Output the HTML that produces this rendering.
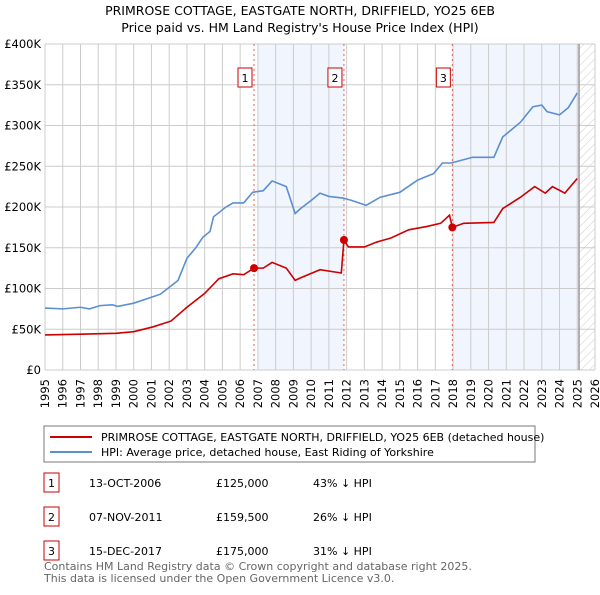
<!DOCTYPE html>
<html><head><meta charset="utf-8"><style>
body{margin:0;background:#fff;font-family:"Liberation Sans","DejaVu Sans",sans-serif;}
svg text{font-family:"DejaVu Sans","Liberation Sans",sans-serif;}
</style></head><body>
<svg id="c" width="600" height="590" xmlns="http://www.w3.org/2000/svg">
<defs><pattern id="hatch" width="6" height="6" patternUnits="userSpaceOnUse" patternTransform="rotate(45)"><line x1="0" y1="0" x2="0" y2="6" stroke="#ccc" stroke-width="1"/></pattern></defs>
<text x="300" y="15" text-anchor="middle" font-size="12.5">PRIMROSE COTTAGE, EASTGATE NORTH, DRIFFIELD, YO25 6EB</text>
<text x="300" y="32" text-anchor="middle" font-size="12.5">Price paid vs. HM Land Registry's House Price Index (HPI)</text>
<g id="plot"></g>
<rect x="44" y="426" width="491" height="36" fill="#fff" stroke="#777"/>
<line x1="50" y1="437" x2="92" y2="437" stroke="#cc0000" stroke-width="2"/>
<text x="101" y="441" font-size="11">PRIMROSE COTTAGE, EASTGATE NORTH, DRIFFIELD, YO25 6EB (detached house)</text>
<line x1="50" y1="452" x2="92" y2="452" stroke="#5b8fd0" stroke-width="2"/>
<text x="101" y="456" font-size="11">HPI: Average price, detached house, East Riding of Yorkshire</text>
<g font-size="11">
<rect x="44" y="473" width="15" height="19" fill="#fff" stroke="#cc0000"/><text x="51.5" y="487" text-anchor="middle">1</text>
<text x="89" y="487">13-OCT-2006</text><text x="216" y="487">£125,000</text><text x="313" y="487">43% ↓ HPI</text>
<rect x="44" y="507" width="15" height="19" fill="#fff" stroke="#cc0000"/><text x="51.5" y="521" text-anchor="middle">2</text>
<text x="89" y="521">07-NOV-2011</text><text x="216" y="521">£159,500</text><text x="313" y="521">26% ↓ HPI</text>
<rect x="44" y="541" width="15" height="19" fill="#fff" stroke="#cc0000"/><text x="51.5" y="555" text-anchor="middle">3</text>
<text x="89" y="555">15-DEC-2017</text><text x="216" y="555">£175,000</text><text x="313" y="555">31% ↓ HPI</text>
</g>
<text x="44" y="570" font-size="11" fill="#666">Contains HM Land Registry data © Crown copyright and database right 2025.</text>
<text x="44" y="582" font-size="11" fill="#666">This data is licensed under the Open Government Licence v3.0.</text>
</svg>
<script>
const yTicks=[0,50000,100000,150000,200000,250000,300000,350000,400000];
const yTickLabels=["£0","£50K","£100K","£150K","£200K","£250K","£300K","£350K","£400K"];
const xYears=[1995,1996,1997,1998,1999,2000,2001,2002,2003,2004,2005,2006,2007,2008,2009,2010,2011,2012,2013,2014,2015,2016,2017,2018,2019,2020,2021,2022,2023,2024,2025,2026];
const hpiYears=[1995,1996,1997,1997.5,1998.1,1998.8,1999.1,2000,2001.1,2001.5,2002.1,2002.5,2003,2003.5,2003.9,2004.3,2004.5,2005.2,2005.6,2006.2,2006.7,2007.3,2007.8,2008.6,2009.1,2009.4,2010,2010.5,2011,2011.8,2012.3,2013.1,2013.9,2015,2016,2016.9,2017.4,2017.9,2019.1,2020.3,2020.8,2021.8,2022.5,2023,2023.3,2024,2024.5,2025];
const hpiValues=[76000,75000,77000,75000,79000,80000,78000,82000,90000,93000,103000,110000,137000,150000,163000,170000,188000,200000,205000,205000,218000,220000,232000,225000,192000,198000,208000,217000,213000,211000,208000,202000,212000,218000,233000,241000,254000,254000,261000,261000,286000,304000,323000,325000,317000,313000,322000,340000];
const ppYears=[1995,1997,1999,2000,2001.1,2002.1,2003,2004,2004.8,2005.6,2006.2,2006.78,2007.3,2007.8,2008.6,2009.1,2009.4,2010.5,2011.7,2011.85,2012.1,2013,2013.7,2014.5,2015.5,2016.5,2017.3,2017.8,2017.96,2018.6,2020.3,2020.8,2021.8,2022.6,2023.2,2023.6,2024.3,2025];
const ppValues=[43000,44000,45000,47000,53000,60000,77000,94000,112000,118000,117000,125000,125000,132000,125000,110000,113000,123000,119000,159500,151000,151000,157000,162000,172000,176000,180000,190000,175000,180000,181000,198000,212000,225000,217000,225000,217000,235000];
const saleYears=[2006.78,2011.85,2017.96];
const saleValues=[125000,159500,175000];
const saleLabels=["1","2","3"];
const L=45,R=595,T=44,B=370;
const xs=y=>L+(y-1995)*(R-L)/31;
const ys=v=>B-v*(B-T)/400000;
const g=document.getElementById('plot');
const NS="http://www.w3.org/2000/svg";
function mk(t,a){const e=document.createElementNS(NS,t);for(const k in a)e.setAttribute(k,a[k]);g.appendChild(e);return e;}
let e;
e=mk('rect',{x:xs(2007),y:T,width:xs(2011.85)-xs(2007),height:B-T,fill:'#eef3fc',opacity:0.8});


e=mk('rect',{x:xs(2017.96),y:T,width:xs(2025.1)-xs(2017.96),height:B-T,fill:'#eef3fc',opacity:0.8});


e=mk('rect',{x:xs(2025.1),y:T,width:R-xs(2025.1),height:B-T,fill:'url(#hatch)'});


xYears.forEach(y=>{e=mk('line',{x1:xs(y),x2:xs(y),y1:T,y2:B,stroke:'#ccc'});


e=mk('text',{x:xs(y),y:B+5,'font-size':11.5,'text-anchor':'end',transform:`rotate(-90 ${xs(y)+4} ${B+5})`});e.textContent=y;

});
yTicks.forEach((v,i)=>{e=mk('line',{x1:L,x2:R,y1:ys(v),y2:ys(v),stroke:'#ccc'});


e=mk('text',{x:L-4,y:ys(v)+4,'font-size':11.5,'text-anchor':'end'});e.textContent=yTickLabels[i];

});
e=mk('line',{x1:xs(2025.1),x2:xs(2025.1),y1:T,y2:B,stroke:'#999',"stroke-width":1.5});


saleYears.forEach((y,i)=>{e=mk('line',{x1:xs(y),x2:xs(y),y1:T,y2:B,stroke:'#e06060','stroke-dasharray':'2,3'});


e=mk('rect',{x:xs(y)-16,y:68,width:14,height:19,fill:'#fff',stroke:'#cc0000'});


e=mk('text',{x:xs(y)-9,y:82,'font-size':11,'text-anchor':'middle'});e.textContent=saleLabels[i];

});
e=mk('polyline',{points:hpiYears.map((y,i)=>xs(y)+','+ys(hpiValues[i])).join(' '),fill:'none',stroke:'#5b8fd0','stroke-width':1.6});


e=mk('polyline',{points:ppYears.map((y,i)=>xs(y)+','+ys(ppValues[i])).join(' '),fill:'none',stroke:'#cc0000','stroke-width':1.6});


saleYears.forEach((y,i)=>{e=mk('circle',{cx:xs(y),cy:ys(saleValues[i]),r:4,fill:'#cc0000'});

});
</script>
</body></html>
